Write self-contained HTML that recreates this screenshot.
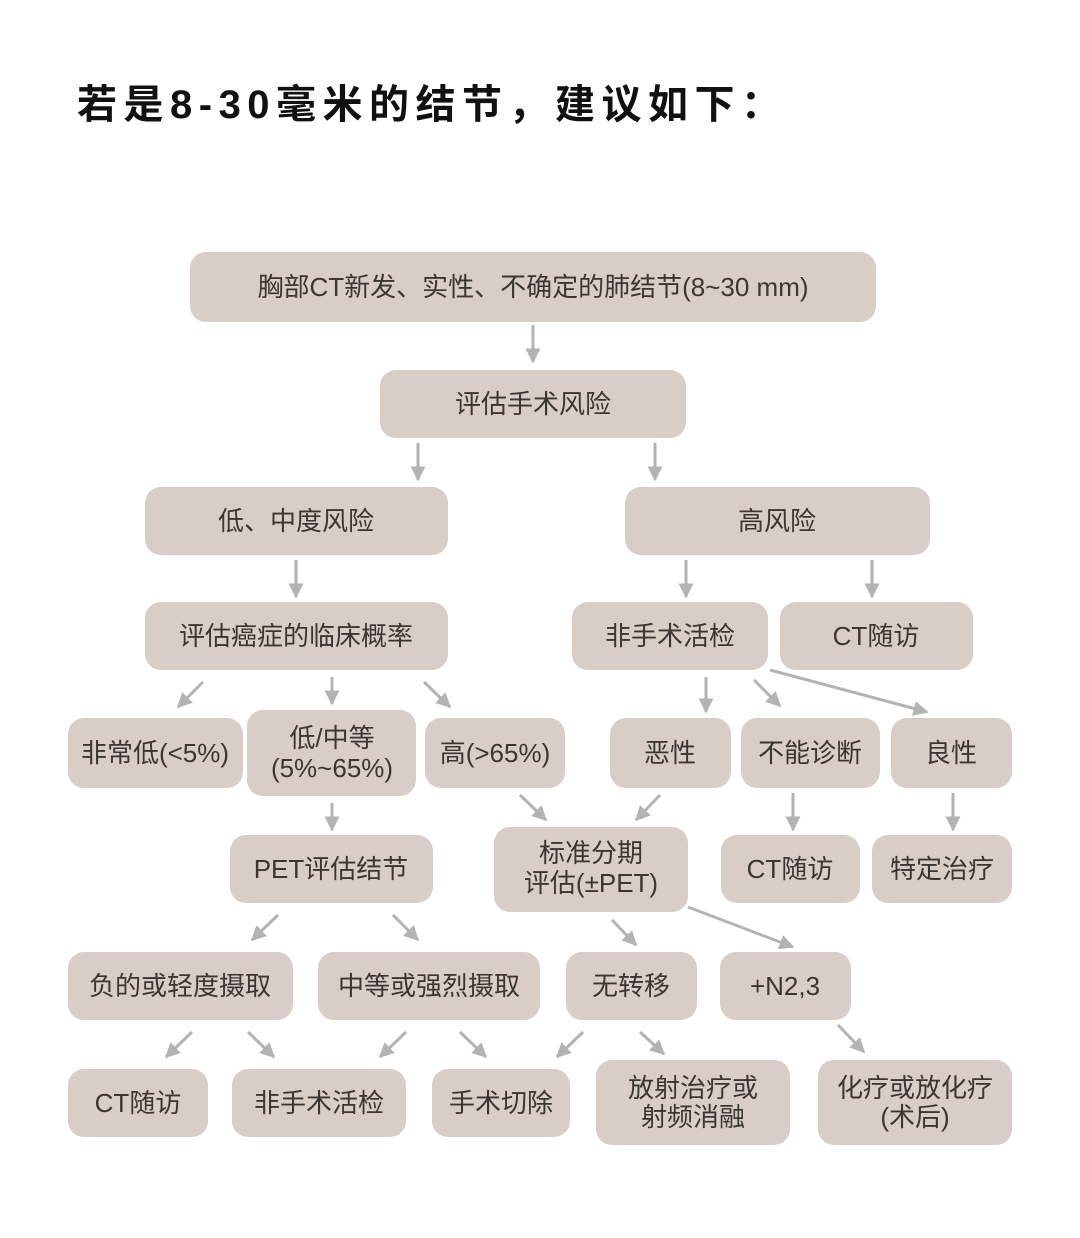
<!DOCTYPE html>
<html><head><meta charset="utf-8"><style>
html,body{margin:0;padding:0;background:#fff;width:1080px;height:1238px;overflow:hidden}
svg{display:block}
text{font-family:"Liberation Sans","Noto Sans CJK SC",sans-serif;fill:#3a3633;font-size:26px;text-anchor:middle;dominant-baseline:central}
.t{font-size:40px;font-weight:bold;fill:#111;text-anchor:start;letter-spacing:6.5px}
rect{fill:#d9cdc7}
line{stroke:#b3b3b3;stroke-width:3}
</style></head><body>
<svg width="1080" height="1238" viewBox="0 0 1080 1238">
<defs><marker id="a" viewBox="0 0 10 10" refX="9" refY="5" markerWidth="5" markerHeight="5" orient="auto" markerUnits="strokeWidth"><path d="M0,0L10,5L0,10z" fill="#b3b3b3"/></marker></defs>
<text class="t" x="77" y="105">若是8-30毫米的结节，建议如下：</text>
<g>
<rect x="190" y="252" width="686" height="70" rx="16"/><text x="533" y="287">胸部CT新发、实性、不确定的肺结节(8~30 mm)</text>
<rect x="380" y="370" width="306" height="68" rx="16"/><text x="533" y="404">评估手术风险</text>
<rect x="145" y="487" width="303" height="68" rx="16"/><text x="296" y="521">低、中度风险</text>
<rect x="625" y="487" width="305" height="68" rx="16"/><text x="777" y="521">高风险</text>
<rect x="145" y="602" width="303" height="68" rx="16"/><text x="296" y="636">评估癌症的临床概率</text>
<rect x="572" y="602" width="196" height="68" rx="16"/><text x="670" y="636">非手术活检</text>
<rect x="780" y="602" width="193" height="68" rx="16"/><text x="876" y="636">CT随访</text>
<rect x="68" y="718" width="175" height="70" rx="16"/><text x="155" y="753">非常低(&lt;5%)</text>
<rect x="247" y="710" width="169" height="86" rx="16"/><text x="332" y="738">低/中等</text><text x="332" y="768">(5%~65%)</text>
<rect x="425" y="718" width="140" height="70" rx="16"/><text x="495" y="753">高(&gt;65%)</text>
<rect x="610" y="718" width="121" height="70" rx="16"/><text x="670" y="753">恶性</text>
<rect x="741" y="718" width="139" height="70" rx="16"/><text x="810" y="753">不能诊断</text>
<rect x="891" y="718" width="121" height="70" rx="16"/><text x="951" y="753">良性</text>
<rect x="230" y="835" width="203" height="68" rx="16"/><text x="331" y="869">PET评估结节</text>
<rect x="494" y="827" width="194" height="85" rx="16"/><text x="591" y="853">标准分期</text><text x="591" y="883">评估(±PET)</text>
<rect x="721" y="835" width="139" height="68" rx="16"/><text x="790" y="869">CT随访</text>
<rect x="872" y="835" width="140" height="68" rx="16"/><text x="942" y="869">特定治疗</text>
<rect x="68" y="952" width="225" height="68" rx="16"/><text x="180" y="986">负的或轻度摄取</text>
<rect x="318" y="952" width="222" height="68" rx="16"/><text x="429" y="986">中等或强烈摄取</text>
<rect x="566" y="952" width="131" height="68" rx="16"/><text x="631" y="986">无转移</text>
<rect x="720" y="952" width="131" height="68" rx="16"/><text x="785" y="986">+N2,3</text>
<rect x="68" y="1069" width="140" height="68" rx="16"/><text x="138" y="1103">CT随访</text>
<rect x="232" y="1069" width="174" height="68" rx="16"/><text x="319" y="1103">非手术活检</text>
<rect x="432" y="1069" width="138" height="68" rx="16"/><text x="501" y="1103">手术切除</text>
<rect x="596" y="1060" width="194" height="85" rx="16"/><text x="693" y="1088">放射治疗或</text><text x="693" y="1117">射频消融</text>
<rect x="818" y="1060" width="194" height="85" rx="16"/><text x="915" y="1088">化疗或放化疗</text><text x="915" y="1117">(术后)</text>
</g>
<g>
<line x1="533" y1="325" x2="533" y2="362" marker-end="url(#a)"/>
<line x1="418" y1="443" x2="418" y2="480" marker-end="url(#a)"/>
<line x1="655" y1="443" x2="655" y2="480" marker-end="url(#a)"/>
<line x1="296" y1="560" x2="296" y2="597" marker-end="url(#a)"/>
<line x1="686" y1="560" x2="686" y2="597" marker-end="url(#a)"/>
<line x1="872" y1="560" x2="872" y2="597" marker-end="url(#a)"/>
<line x1="203" y1="682" x2="178" y2="707" marker-end="url(#a)"/>
<line x1="332" y1="677" x2="332" y2="704" marker-end="url(#a)"/>
<line x1="424" y1="682" x2="450" y2="707" marker-end="url(#a)"/>
<line x1="706" y1="677" x2="706" y2="712" marker-end="url(#a)"/>
<line x1="754" y1="680" x2="780" y2="706" marker-end="url(#a)"/>
<line x1="770" y1="670" x2="927" y2="712" marker-end="url(#a)"/>
<line x1="520" y1="795" x2="546" y2="820" marker-end="url(#a)"/>
<line x1="660" y1="795" x2="636" y2="820" marker-end="url(#a)"/>
<line x1="793" y1="793" x2="793" y2="830" marker-end="url(#a)"/>
<line x1="953" y1="793" x2="953" y2="830" marker-end="url(#a)"/>
<line x1="332" y1="803" x2="332" y2="830" marker-end="url(#a)"/>
<line x1="278" y1="915" x2="252" y2="940" marker-end="url(#a)"/>
<line x1="393" y1="915" x2="418" y2="940" marker-end="url(#a)"/>
<line x1="612" y1="920" x2="636" y2="945" marker-end="url(#a)"/>
<line x1="688" y1="907" x2="793" y2="947" marker-end="url(#a)"/>
<line x1="192" y1="1032" x2="166" y2="1057" marker-end="url(#a)"/>
<line x1="248" y1="1032" x2="274" y2="1057" marker-end="url(#a)"/>
<line x1="406" y1="1032" x2="380" y2="1057" marker-end="url(#a)"/>
<line x1="460" y1="1032" x2="486" y2="1057" marker-end="url(#a)"/>
<line x1="583" y1="1032" x2="557" y2="1057" marker-end="url(#a)"/>
<line x1="640" y1="1032" x2="664" y2="1054" marker-end="url(#a)"/>
<line x1="838" y1="1025" x2="864" y2="1052" marker-end="url(#a)"/>
</g>
</svg>
</body></html>
